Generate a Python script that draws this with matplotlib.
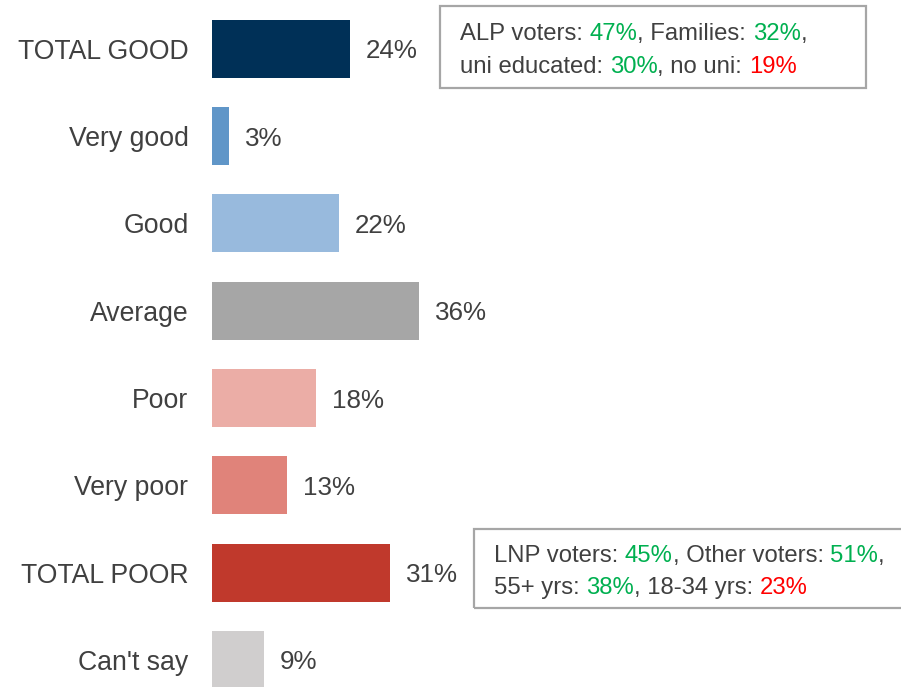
import matplotlib.pyplot as plt
from matplotlib.patches import Rectangle

plt.rcParams['font.family'] = ['Liberation Sans', 'DejaVu Sans']

categories = ["TOTAL GOOD", "Very good", "Good", "Average", "Poor", "Very poor", "TOTAL POOR", "Can't say"]
values = [24, 3, 22, 36, 18, 13, 31, 9]
colors = ['#003057', '#6096C8', '#98BADD', '#A6A6A6', '#EBADA6', '#E0837A', '#C0392C', '#D0CECE']

# callout boxes: list of lines, each line a list of (text, kind)
good_note = [
    [("ALP voters: ", 'txt'), ("47%", 'up'), (", Families: ", 'txt'), ("32%", 'up'), (",", 'txt')],
    [("uni educated: ", 'txt'), ("30%", 'up'), (", no uni: ", 'txt'), ("19%", 'down')],
]
poor_note = [
    [("LNP voters: ", 'txt'), ("45%", 'up'), (", Other voters: ", 'txt'), ("51%", 'up'), (",", 'txt')],
    [("55+ yrs: ", 'txt'), ("38%", 'up'), (", 18-34 yrs: ", 'txt'), ("23%", 'down')],
]
kind_color = {'txt': '#404040', 'up': '#00B050', 'down': '#FF0000'}

W, H = 901, 687
fig = plt.figure(figsize=(W / 100, H / 100), dpi=100)
ax = fig.add_axes([212 / W, 0, 1 - 212 / W, 1])

ypos = range(len(categories))
ax.barh(ypos, values, height=0.665, color=colors)
for y, v in zip(ypos, values):
    ax.text(v + 2.8, y, f"{v}%", va='center_baseline', ha='left', fontsize=18.7, color='#404040')

ax.set_xlim(0, (W - 212) / 5.75)
ax.set_ylim(7.31, -0.56)
ax.set_yticks(list(ypos))
ax.set_yticklabels(categories, fontsize=19.2, color='#404040')
ax.tick_params(axis='y', length=0, pad=17)
ax.set_xticks([])
for s in ax.spines.values():
    s.set_visible(False)


def note(lines, x0, y0, x1, y1, tx, baselines):
    fig.patches.append(Rectangle((x0 / W, 1 - y1 / H), (x1 - x0) / W, (y1 - y0) / H,
                                 transform=fig.transFigure, fill=False,
                                 edgecolor='#A6A6A6', linewidth=1.6))
    for line, base in zip(lines, baselines):
        prev = None
        for s, k in line:
            if prev is None:
                prev = fig.text(tx / W, 1 - base / H, s, fontsize=17.2, color=kind_color[k],
                                ha='left', va='baseline')
            else:
                prev = ax.annotate(s, xy=(1, 0), xycoords=prev, fontsize=17.2,
                                   color=kind_color[k], ha='left', va='bottom')


note(good_note, 440, 6, 866, 88, 460, [40, 73])
note(poor_note, 474, 529, 910, 608, 494, [562, 594])

fig.savefig('out.png', dpi=100)
